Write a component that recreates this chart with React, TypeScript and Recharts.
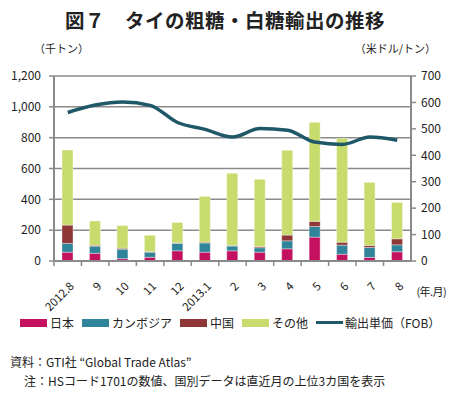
import { ComposedChart, Bar, Line, XAxis, YAxis, CartesianGrid } from 'recharts'

const months = ['2012.8', '9', '10', '11', '12', '2013.1', '2', '3', '4', '5', '6', '7', '8']
const japan = [57, 50, 15, 24, 66, 57, 66, 57, 79, 155, 44, 23, 60]
const cambodia = [57, 46, 62, 33, 48, 60, 31, 29, 52, 69, 59, 65, 45]
const china = [119, 6, 6, 4, 4, 5, 4, 8, 37, 33, 19, 13, 39]
const others = [487, 158, 147, 106, 132, 297, 468, 436, 550, 643, 674, 409, 236]
const price = [562, 590, 602, 589, 524, 498, 469, 501, 495, 450, 441, 469, 457]

const leftTicks = [0, 200, 400, 600, 800, 1000, 1200]
const rightTicks = [0, 100, 200, 300, 400, 500, 600, 700]

const series = [
  { key: 'japan', name: '日本', color: '#c3105f' },
  { key: 'cambodia', name: 'カンボジア', color: '#2f8499' },
  { key: 'china', name: '中国', color: '#8f3636' },
  { key: 'others', name: 'その他', color: '#c8dc6e' },
]
const lineColor = '#1f5868'

const data = months.map((m, i) => ({
  month: m,
  japan: japan[i],
  cambodia: cambodia[i],
  china: china[i],
  others: others[i],
  price: price[i],
}))

const FONT = "'Noto Sans CJK JP', 'Noto Sans', sans-serif"
const GRAY = '#8a8a8a'

function MonthTick(props: any) {
  const { x, y, payload } = props
  const half = payload?.offset ?? 13.7
  const ax = x + 7
  const ay = y + 18
  return (
    <g>
      <line x1={x - half} y1={y - 8} x2={x - half} y2={y - 3} stroke={GRAY} strokeWidth={1.5} />
      <text
        x={ax}
        y={ay}
        textAnchor="end"
        transform={`rotate(-45 ${ax} ${ay})`}
        fontSize={11.5}
        fontFamily={FONT}
        fill="#222"
      >
        {payload.value}
      </text>
    </g>
  )
}

export default function App() {
  return (
    <div style={{ position: 'absolute', left: 0, top: 0, width: 450, height: 395, background: '#fff', fontFamily: FONT, color: '#222' }}>
      <div style={{ position: 'absolute', top: 5, left: 0, width: 450, textAlign: 'center', fontSize: 19.5, fontWeight: 700, letterSpacing: 0.5 }}>
        図７　タイの粗糖・白糖輸出の推移
      </div>
      <div style={{ position: 'absolute', top: 40, left: 34, fontSize: 11 }}>（千トン）</div>
      <div style={{ position: 'absolute', top: 40, right: 14, fontSize: 11 }}>（米ドル/トン）</div>

      <ComposedChart
        width={450}
        height={395}
        data={data}
        margin={{ top: 76, left: 10, right: 4, bottom: 94 }}
        barSize={11}
      >
        <CartesianGrid yAxisId="left" vertical={false} stroke={GRAY} strokeWidth={1.5} />
        <XAxis
          dataKey="month"
          height={40}
          interval={0}
          axisLine={{ stroke: GRAY, strokeWidth: 2 }}
          tickLine={false}
          tick={<MonthTick />}
        />
        <YAxis
          yAxisId="left"
          width={44}
          domain={[0, 1200]}
          ticks={leftTicks}
          tickFormatter={(v: number) => v.toLocaleString('en-US')}
          axisLine={{ stroke: GRAY, strokeWidth: 2 }}
          tickLine={{ stroke: GRAY, strokeWidth: 1.5 }}
          tickSize={5}
          tickMargin={8}
          tick={{ fontSize: 12, fill: '#222', fontFamily: FONT }}
        />
        <YAxis
          yAxisId="right"
          orientation="right"
          width={35}
          domain={[0, 700]}
          ticks={rightTicks}
          axisLine={{ stroke: GRAY, strokeWidth: 2 }}
          tickLine={{ stroke: GRAY, strokeWidth: 1.5 }}
          tickSize={5}
          tickMargin={5}
          tick={{ fontSize: 12, fill: '#222', fontFamily: FONT }}
        />
        {series.map((s) => (
          <Bar
            key={s.key}
            yAxisId="left"
            dataKey={s.key}
            stackId="a"
            fill={s.color}
            stroke="#ffffff"
            strokeOpacity={0.45}
            strokeWidth={0.8}
            isAnimationActive={false}
          />
        ))}
        <Line
          yAxisId="right"
          type="monotone"
          dataKey="price"
          stroke={lineColor}
          strokeWidth={3.5}
          dot={false}
          isAnimationActive={false}
        />
      </ComposedChart>

      <div style={{ position: 'absolute', top: 283, right: 4, fontSize: 11, letterSpacing: -0.6, whiteSpace: 'nowrap' }}>(年.月)</div>

      <div style={{ position: 'absolute', top: 314, left: 20, display: 'flex', alignItems: 'center', fontSize: 12 }}>
        {series.map((s) => (
          <div key={s.key} style={{ display: 'flex', alignItems: 'center', marginRight: 8 }}>
            <span style={{ display: 'inline-block', width: 27, height: 8, background: s.color, marginRight: 3 }} />
            <span>{s.name}</span>
          </div>
        ))}
        <div style={{ display: 'flex', alignItems: 'center' }}>
          <span style={{ display: 'inline-block', width: 27, height: 3.5, background: lineColor, marginRight: 2 }} />
          <span>輸出単価（FOB）</span>
        </div>
      </div>

      <div style={{ position: 'absolute', top: 353, left: 10, fontSize: 12 }}>資料：GTI社 “Global Trade Atlas”</div>
      <div style={{ position: 'absolute', top: 372, left: 24, fontSize: 12 }}>注：HSコード1701の数値、国別データは直近月の上位3カ国を表示</div>
    </div>
  )
}
